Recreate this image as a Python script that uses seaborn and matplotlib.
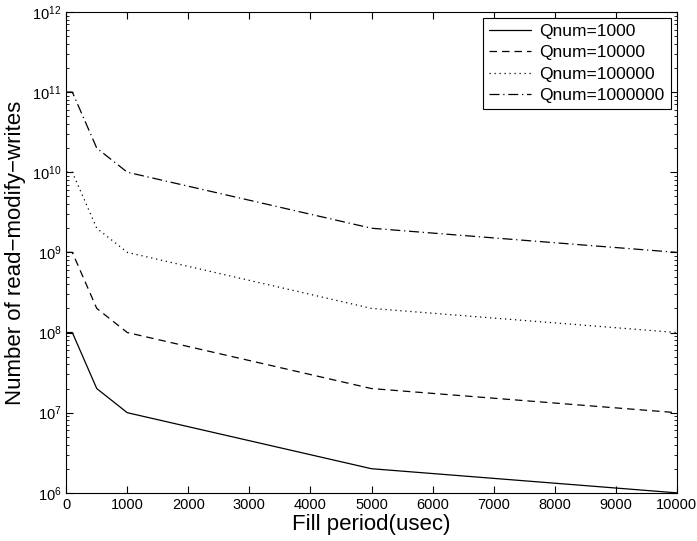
import numpy as np
import pandas as pd
import matplotlib
matplotlib.use("Agg")
import matplotlib.pyplot as plt
import matplotlib.ticker as mticker
import seaborn as sns

# data
fill_period = [10, 100, 500, 1000, 5000, 10000]
q1000 = [1e8, 1e8, 2e7, 1e7, 2e6, 1e6]
q10000 = [1e9, 1e9, 2e8, 1e8, 2e7, 1e7]
q100000 = [1e10, 1e10, 2e9, 1e9, 2e8, 1e8]
q1000000 = [1e11, 1e11, 2e10, 1e10, 2e9, 1e9]
labels = ["Qnum=1000", "Qnum=10000", "Qnum=100000", "Qnum=1000000"]

frames = []
for lab, vals in zip(labels, [q1000, q10000, q100000, q1000000]):
    frames.append(pd.DataFrame({"period": fill_period, "rmw": vals, "series": lab}))
df = pd.concat(frames, ignore_index=True)

sns.set_style("ticks")
plt.rcParams["font.family"] = ["Liberation Sans", "DejaVu Sans"]
for k in ["text.color", "axes.labelcolor", "xtick.color", "ytick.color", "axes.edgecolor"]:
    plt.rcParams[k] = "black"

fig = plt.figure(figsize=(6.97, 5.41), dpi=100)
ax = fig.add_axes([0.095, 0.089, 0.876, 0.889])

dashes = {labels[0]: "", labels[1]: (6, 4), labels[2]: (1, 3), labels[3]: (8, 3, 1, 3)}
sns.lineplot(data=df, x="period", y="rmw", hue="series", style="series",
             palette=["black"] * 4, dashes=dashes, linewidth=0.9, ax=ax)

ax.set_yscale("log")
ax.set_xlim(0, 10000)
ax.set_ylim(1e6, 1e12)
ax.set_xticks(np.arange(0, 10001, 1000))
ax.yaxis.set_minor_formatter(mticker.NullFormatter())
ax.set_xlabel("Fill period(usec)", fontsize=16, labelpad=2)
ax.set_ylabel("Number of read\u2212modify\u2212writes", fontsize=16, labelpad=4)
ax.tick_params(which="both", direction="in", top=True, right=True, labelsize=10.5)
ax.tick_params(which="major", length=5)
ax.tick_params(which="minor", length=2.5)
for s in ax.spines.values():
    s.set_linewidth(0.8)

leg = ax.legend(loc="upper right", fontsize=12.5, fancybox=False, framealpha=1,
                edgecolor="black", handlelength=2.4, handletextpad=0.5,
                borderaxespad=0.35, borderpad=0.35, labelspacing=0.35)
leg.get_frame().set_linewidth(0.8)

fig.savefig("out.png", dpi=100)
